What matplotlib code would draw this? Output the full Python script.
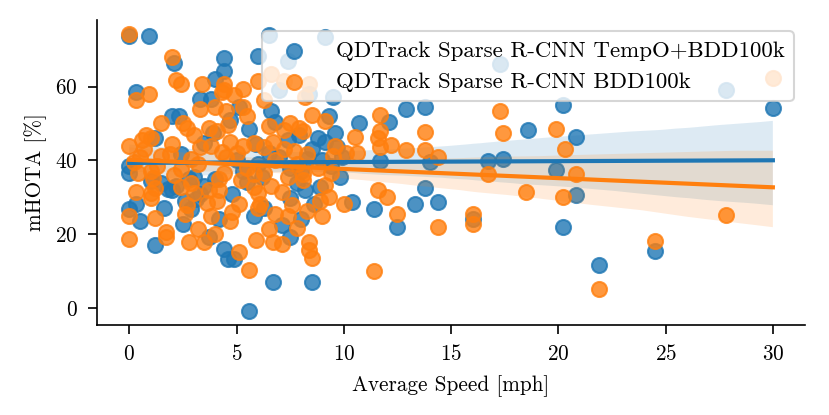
import numpy as np
import matplotlib
matplotlib.use("Agg")
import matplotlib.pyplot as plt
import seaborn as sns

# LaTeX-like look without usetex
plt.rcParams['font.family'] = 'serif'
plt.rcParams['font.serif'] = ['cmr10']
plt.rcParams['mathtext.fontset'] = 'cm'
plt.rcParams['axes.formatter.use_mathtext'] = True
plt.rcParams['font.size'] = 10.2
plt.rcParams['xtick.major.size'] = 4.3
plt.rcParams['ytick.major.size'] = 4.3
plt.rcParams['xtick.major.pad'] = 5
plt.rcParams['ytick.major.pad'] = 5

labels = ["QDTrack Sparse R-CNN TempO+BDD100k", "QDTrack Sparse R-CNN BDD100k"]

# TempO+BDD100k  (average speed [mph], mHOTA [%])
speed_tempo = [
    0.0, 0.9, 2.1, 0.3, 4.4, 4.4, 4.0, 3.3, 3.8, 2.0, 2.3, 1.2, 2.4, 3.5, 0.0, 0.0,
    1.8, 0.3, 0.0, 0.5, 1.2, 2.5, 2.9, 3.7, 4.4, 4.6, 4.9, 6.7, 8.5, 5.6, 7.5, 8.6,
    5.8, 7.5, 8.2, 8.9, 5.5, 6.5, 6.0, 7.4, 8.4, 9.5, 7.0, 6.6, 9.3, 8.8, 7.9, 7.4,
    5.1, 9.1, 9.6, 9.7, 9.1,
    1.5, 2.0, 3.0, 4.0, 5.0, 6.0, 7.0, 8.0, 9.0, 3.5, 6.5, 7.5, 8.5, 2.2, 4.8, 5.3,
    6.2, 7.8, 9.4, 1.0, 3.1, 4.2, 6.3, 8.0, 7.1, 2.6, 3.9, 5.6, 6.8, 4.7, 2.8, 8.3,
    9.8, 5.9, 1.6, 3.3, 9.9,
    10.7, 12.1, 12.9, 13.8, 11.7, 13.8, 13.3, 14.4, 11.4, 12.5, 16.0, 10.4, 16.7, 17.4,
    18.6, 19.9, 20.2, 20.8, 20.8, 20.2, 21.9, 24.5, 27.8, 30.0, 14.0, 17.3,
]
mhota_tempo = [
    73.8, 73.7, 66.4, 58.6, 67.6, 64.2, 62.0, 56.6, 56.6, 52.1, 52.1, 46.0, 41.8, 44.6, 38.4, 36.7,
    32.2, 28.3, 26.9, 23.5, 17.1, 22.7, 26.9, 19.3, 16.0, 13.2, 13.2, 7.0, 7.0, -0.8, 19.3, 28.3,
    25.0, 29.7, 32.0, 32.8, 34.2, 74.0, 68.4, 67.0, 58.0, 57.2, 59.2, 53.5, 52.1, 46.0, 46.8, 45.4,
    54.4, 45.1, 47.4, 43.7, 73.4,
    34.0, 32.0, 35.5, 35.0, 40.0, 39.0, 41.0, 37.0, 40.0, 33.0, 42.0, 38.0, 43.0, 33.0, 31.0, 37.0,
    35.5, 34.0, 38.5, 34.5, 29.5, 24.0, 27.0, 24.0, 22.5, 29.0, 47.5, 48.5, 50.5, 51.0, 35.0, 40.5,
    35.5, 44.5, 27.0, 31.0, 41.0,
    50.2, 50.5, 53.8, 54.4, 39.8, 32.5, 28.3, 28.6, 26.9, 21.9, 24.0, 28.6, 39.8, 40.4,
    48.2, 37.3, 55.0, 46.3, 30.6, 22.1, 11.8, 15.4, 59.2, 54.1, 39.5, 66.0,
]

# BDD100k only
speed_bdd = [
    0.0, 2.0, 2.2, 2.4, 0.3, 0.9, 3.4, 4.3, 3.3, 4.0, 1.5, 2.5, 2.7, 3.0, 3.7, 4.1,
    0.0, 0.6, 1.0, 0.7, 1.5, 1.9, 2.9, 3.3, 0.4, 1.0, 2.4, 4.3, 4.7, 1.1, 1.2, 0.3,
    1.0, 1.0, 0.0, 1.2, 0.0, 1.7, 1.7, 2.4, 2.9, 3.0, 2.7, 2.8, 3.2, 3.5, 3.8, 4.0,
    3.7, 4.2, 4.7, 5.1, 5.6, 5.9, 6.5, 6.7, 7.1, 8.4, 8.4, 8.5, 6.8, 7.4, 7.8, 9.0,
    8.3, 5.1, 5.8, 6.0, 6.1, 6.0, 5.2, 4.4, 7.1, 9.3, 9.1, 8.1, 8.1, 5.8, 6.3, 7.4,
    6.6, 7.2, 8.4, 8.2, 4.4, 4.4, 5.3, 6.0, 4.9, 6.3, 5.3, 5.5, 4.5, 4.6, 6.5, 7.2,
    7.5, 7.9, 8.1, 9.1, 8.5, 6.7, 5.8, 6.3, 7.7, 8.3, 9.5, 5.3,
    3.2, 4.5, 5.5, 6.8, 7.8, 8.8, 3.8, 5.0, 7.2, 4.2, 2.0, 9.6, 0.2, 0.5, 1.3, 2.1,
    3.6, 4.8, 6.6, 7.6, 8.9, 9.4, 2.6, 4.1, 0.8,
    11.7, 11.7, 11.6, 11.7, 10.5, 10.6, 10.1, 12.2, 12.9, 13.8, 13.8, 14.4, 16.7, 17.3,
    17.4, 19.9, 18.5, 11.6, 12.0, 12.5, 14.4, 16.0, 16.0, 11.4, 10.0, 20.3, 20.8, 20.2,
    21.9, 24.5, 27.8, 30.0,
]
mhota_bdd = [
    74.3, 68.1, 61.7, 60.8, 56.4, 58.0, 60.6, 58.6, 53.8, 54.4, 50.2, 50.2, 48.8, 46.8, 48.8, 47.9,
    44.0, 45.4, 46.0, 43.2, 41.2, 41.8, 40.4, 43.7, 36.7, 37.0, 37.6, 42.3, 45.1, 35.3, 32.5, 31.4,
    31.1, 29.7, 25.0, 24.4, 18.8, 20.7, 19.3, 32.8, 33.9, 31.1, 27.8, 17.9, 21.3, 17.9, 25.0, 20.2,
    32.0, 32.0, 23.5, 15.1, 10.4, 18.5, 21.3, 17.9, 17.4, 17.9, 15.7, 13.7, 25.5, 25.0, 21.6, 25.0,
    26.4, 28.3, 32.8, 31.1, 28.3, 27.2, 34.8, 36.7, 31.4, 30.0, 33.4, 34.8, 36.2, 36.2, 36.7, 35.6,
    63.4, 61.4, 60.8, 57.2, 60.8, 59.2, 59.4, 61.4, 57.8, 56.4, 54.4, 52.1, 53.5, 49.6, 49.3, 48.2,
    50.2, 48.8, 47.9, 50.7, 52.4, 45.1, 44.6, 43.7, 42.6, 41.8, 41.2, 44.0,
    39.0, 41.0, 38.0, 40.0, 39.0, 38.0, 44.0, 42.0, 43.0, 35.0, 44.5, 44.0, 39.5, 41.0, 38.5, 36.0,
    28.5, 26.0, 33.0, 28.0, 29.0, 36.5, 25.5, 29.0, 47.0,
    52.4, 48.0, 46.0, 43.7, 46.3, 42.1, 42.0, 44.3, 42.9, 47.7, 42.9, 40.9, 36.4, 53.5,
    47.4, 48.5, 31.4, 32.0, 30.0, 25.5, 22.1, 25.5, 22.7, 10.1, 28.3, 43.2, 36.2, 30.0,
    5.3, 18.2, 25.2, 62.2,
]

fig, ax = plt.subplots(figsize=(5.533, 2.767), dpi=150)
fig.subplots_adjust(left=0.117, right=0.97, top=0.952, bottom=0.217)

sns.regplot(x=np.array(speed_tempo), y=np.array(mhota_tempo), ax=ax, color='C0',
            label=labels[0], seed=0, scatter_kws={'s': 52}, line_kws={'lw': 2})
sns.regplot(x=np.array(speed_bdd), y=np.array(mhota_bdd), ax=ax, color='C1',
            label=labels[1], seed=1, scatter_kws={'s': 52}, line_kws={'lw': 2})

ax.set_xlabel('Average Speed [mph]', labelpad=5)
ax.set_ylabel('mHOTA [%]')
ax.set_yticks([0, 20, 40, 60])
ax.set_xticks([0, 5, 10, 15, 20, 25, 30])
sns.despine(ax=ax)
ax.legend(loc='upper right', fontsize=11)

fig.savefig('out.png', dpi=150)
